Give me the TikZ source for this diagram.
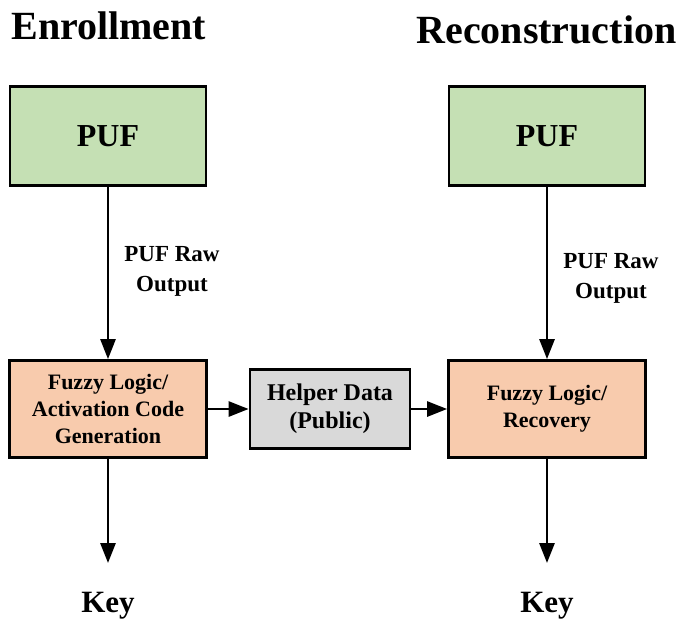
\documentclass[tikz,border=0pt]{standalone}
\usepackage{fontspec}
\setmainfont{Liberation Serif}
\usetikzlibrary{arrows.meta, positioning}

\definecolor{pufgreen}{HTML}{C5E0B4}
\definecolor{fuzzypeach}{HTML}{F8CBAD}
\definecolor{helpergray}{HTML}{D9D9D9}

\begin{document}
\begin{tikzpicture}[x=1pt, y=-1pt, on grid, auto, line width=2.8pt,
    >={Triangle[length=20pt,width=15pt]},
    block/.style={draw, inner sep=0pt, align=center},
    pufblock/.style={block, fill=pufgreen, minimum width=196pt, minimum height=99pt,
        font=\fontsize{32}{38}\selectfont\bfseries},
    fuzzyblock/.style={block, fill=fuzzypeach, minimum width=197pt, minimum height=97pt,
        font=\fontsize{22}{27}\selectfont\bfseries},
    helperblock/.style={block, fill=helpergray, minimum width=160pt, minimum height=79pt,
        font=\fontsize{24}{28}\selectfont\bfseries},
    rawlabel/.style={align=center, inner xsep=15pt, inner ysep=0pt,
        font=\fontsize{23}{30}\selectfont\bfseries},
    keylabel/.style={inner sep=0pt, outer sep=0pt, font=\fontsize{31}{36}\selectfont\bfseries},
    title/.style={inner sep=0pt, anchor=base west, font=\fontsize{40}{48}\selectfont\bfseries}]

    \useasboundingbox (0,0) rectangle (681,621);

    \node[title] (enroll) at (10,39) {Enrollment};
    \node[title] (recon) at (415,43) {Reconstruction};

    \node[pufblock] (puf_e) at (108,136) {PUF};
    \node[fuzzyblock] (fuzzy_e) [below=273pt of puf_e] {Fuzzy Logic/\\Activation Code\\Generation};
    \node[helperblock] (helper) [right=222pt of fuzzy_e] {Helper Data\\(Public)};
    \node[fuzzyblock] (fuzzy_r) [right=439pt of fuzzy_e] {Fuzzy Logic/\\Recovery};
    \node[pufblock] (puf_r) [above=273pt of fuzzy_r] {PUF};
    \node[keylabel] (key_e) [below=196.5pt of fuzzy_e] {Key};
    \node[keylabel] (key_r) [below=196.5pt of fuzzy_r] {Key};

    \path[->]
    (puf_e) edge node[rawlabel, pos=0.49] {PUF Raw\\Output} (fuzzy_e)
    (puf_r) edge node[rawlabel, pos=0.53] {PUF Raw\\Output} (fuzzy_r)
    (fuzzy_e) edge (helper)
    (helper) edge (fuzzy_r)
    (fuzzy_e) edge[shorten >=29pt] (key_e)
    (fuzzy_r) edge[shorten >=29pt] (key_r);

\end{tikzpicture}
\end{document}
